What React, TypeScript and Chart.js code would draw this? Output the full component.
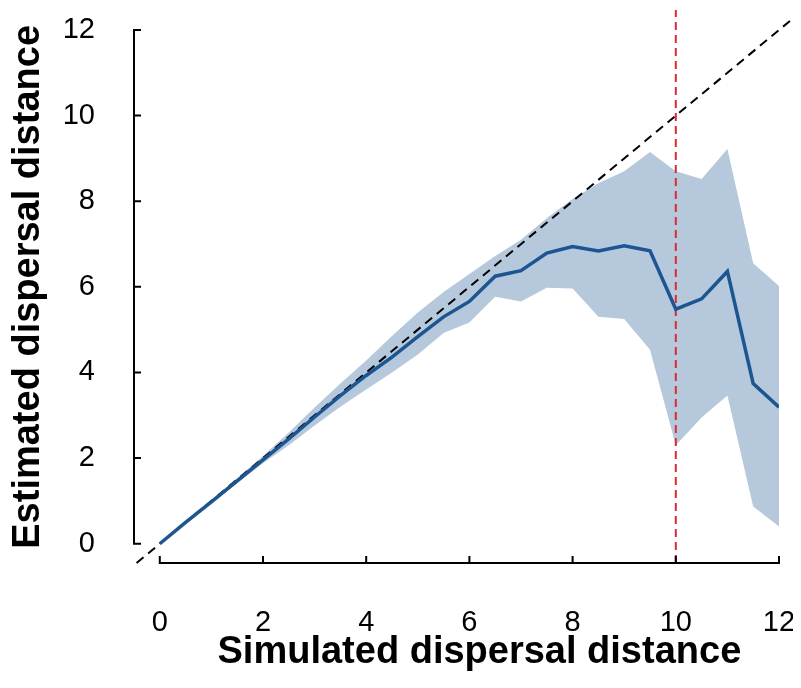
import { useEffect, useRef } from "react";
import { Chart, registerables } from "chart.js";

Chart.register(...registerables);

const simulated = [0, 0.5, 1, 1.5, 2, 2.5, 3, 3.5, 4, 4.5, 5, 5.5, 6, 6.5, 7, 7.5, 8, 8.5, 9, 9.5, 10, 10.5, 11, 11.5, 12];
const estimatedMean = [0, 0.5, 0.98, 1.47, 1.96, 2.45, 2.96, 3.46, 3.93, 4.36, 4.84, 5.3, 5.66, 6.25, 6.38, 6.79, 6.94, 6.84, 6.96, 6.84, 5.48, 5.72, 6.36, 3.74, 3.19];
const upperBound = [0, 0.52, 1.02, 1.53, 2.05, 2.6, 3.18, 3.74, 4.28, 4.85, 5.4, 5.88, 6.3, 6.72, 7.1, 7.6, 8.05, 8.42, 8.7, 9.15, 8.7, 8.52, 9.22, 6.55, 6.02];
const lowerBound = [0, 0.48, 0.94, 1.41, 1.88, 2.3, 2.76, 3.2, 3.6, 4.0, 4.42, 4.92, 5.17, 5.77, 5.66, 5.98, 5.96, 5.3, 5.25, 4.53, 2.3, 2.95, 3.46, 0.87, 0.4];
const tickValues = [0, 2, 4, 6, 8, 10, 12];
const identityExtent = [-0.45, 12.37];
const thresholdX = 10;
const thresholdYExtent = [-0.45, 12.47];
const xTitle = "Simulated dispersal distance";
const yTitle = "Estimated dispersal distance";

const FONT = '"Liberation Sans", Arial, Helvetica, sans-serif';

const axesPlugin = {
  id: "customAxes",
  afterDraw(chart: any) {
    const { ctx, chartArea } = chart;
    const xs = chart.scales.x;
    const ys = chart.scales.y;
    const first = tickValues[0];
    const last = tickValues[tickValues.length - 1];
    ctx.save();
    ctx.strokeStyle = "#000";
    ctx.lineWidth = 2;
    ctx.lineCap = "square";
    ctx.beginPath();
    const xa = xs.getPixelForValue(first);
    const xb = xs.getPixelForValue(last);
    const yb = chartArea.bottom;
    ctx.moveTo(xa, yb);
    ctx.lineTo(xb, yb);
    tickValues.forEach((v) => {
      const p = xs.getPixelForValue(v);
      ctx.moveTo(p, yb);
      ctx.lineTo(p, yb - 6);
    });
    const xl = chartArea.left;
    const ya = ys.getPixelForValue(first);
    const yc = ys.getPixelForValue(last);
    ctx.moveTo(xl, ya);
    ctx.lineTo(xl, yc);
    tickValues.forEach((v) => {
      const p = ys.getPixelForValue(v);
      ctx.moveTo(xl, p);
      ctx.lineTo(xl + 6, p);
    });
    ctx.stroke();

    ctx.fillStyle = "#000";
    ctx.font = `bold 38px ${FONT}`;
    ctx.textAlign = "center";
    ctx.textBaseline = "middle";
    ctx.fillText(xTitle, (xa + xb) / 2 + 10, chart.height - 27);
    ctx.translate(21, (ya + yc) / 2);
    ctx.rotate(-Math.PI / 2);
    ctx.fillText(yTitle, 0, 0);
    ctx.restore();
  },
};

export default function App() {
  const canvasRef = useRef<HTMLCanvasElement | null>(null);

  useEffect(() => {
    if (!canvasRef.current) return;
    const pts = (ys: number[]) => simulated.map((x, i) => ({ x, y: ys[i] }));
    const chart = new Chart(canvasRef.current, {
      type: "line",
      data: {
        datasets: [
          {
            label: "Mean",
            data: pts(estimatedMean),
            borderColor: "#1d5590",
            borderWidth: 3.5,
            pointRadius: 0,
            fill: false,
            tension: 0,
            order: 0,
          },
          {
            label: "Threshold",
            data: [
              { x: thresholdX, y: thresholdYExtent[0] },
              { x: thresholdX, y: thresholdYExtent[1] },
            ],
            borderColor: "#dc2a33",
            borderWidth: 2,
            borderDash: [8, 5],
            pointRadius: 0,
            fill: false,
            clip: false,
            order: 1,
          },
          {
            label: "1:1",
            data: identityExtent.map((v) => ({ x: v, y: v })),
            borderColor: "#000",
            borderWidth: 2,
            borderDash: [9, 6],
            pointRadius: 0,
            fill: false,
            clip: false,
            order: 2,
          },
          {
            label: "Upper",
            data: pts(upperBound),
            borderWidth: 0,
            borderColor: "rgba(0,0,0,0)",
            backgroundColor: "#b5c8dc",
            pointRadius: 0,
            fill: "+1",
            tension: 0,
            order: 3,
          },
          {
            label: "Lower",
            data: pts(lowerBound),
            borderWidth: 0,
            borderColor: "rgba(0,0,0,0)",
            pointRadius: 0,
            fill: false,
            tension: 0,
            order: 4,
          },
        ],
      },
      options: {
        animation: false,
        responsive: true,
        maintainAspectRatio: false,
        layout: { padding: { top: 22, right: 14, bottom: 0, left: 0 } },
        plugins: {
          legend: { display: false },
          tooltip: { enabled: false },
        },
        scales: {
          x: {
            type: "linear",
            min: -0.5,
            max: 12,
            grid: { display: false, drawTicks: false },
            border: { display: false },
            afterBuildTicks: (scale: any) => {
              scale.ticks = tickValues.map((value) => ({ value }));
            },
            afterFit: (scale: any) => {
              scale.height = 117;
              scale.paddingLeft = 0;
              scale.paddingRight = 0;
            },
            ticks: {
              color: "#000",
              padding: 43,
              font: { family: FONT, size: 29 },
              maxRotation: 0,
            },
          },
          y: {
            type: "linear",
            min: -0.45,
            max: 12,
            grid: { display: false, drawTicks: false },
            border: { display: false },
            afterBuildTicks: (scale: any) => {
              scale.ticks = tickValues.map((value) => ({ value }));
            },
            afterFit: (scale: any) => {
              scale.width = 126;
              scale.paddingTop = 0;
              scale.paddingBottom = 0;
            },
            ticks: {
              color: "#000",
              padding: 39,
              font: { family: FONT, size: 29 },
            },
          },
        },
      },
      plugins: [axesPlugin],
    });
    return () => chart.destroy();
  }, []);

  return (
    <div style={{ width: 785, height: 672, position: "relative" }}>
      <canvas ref={canvasRef} />
    </div>
  );
}
